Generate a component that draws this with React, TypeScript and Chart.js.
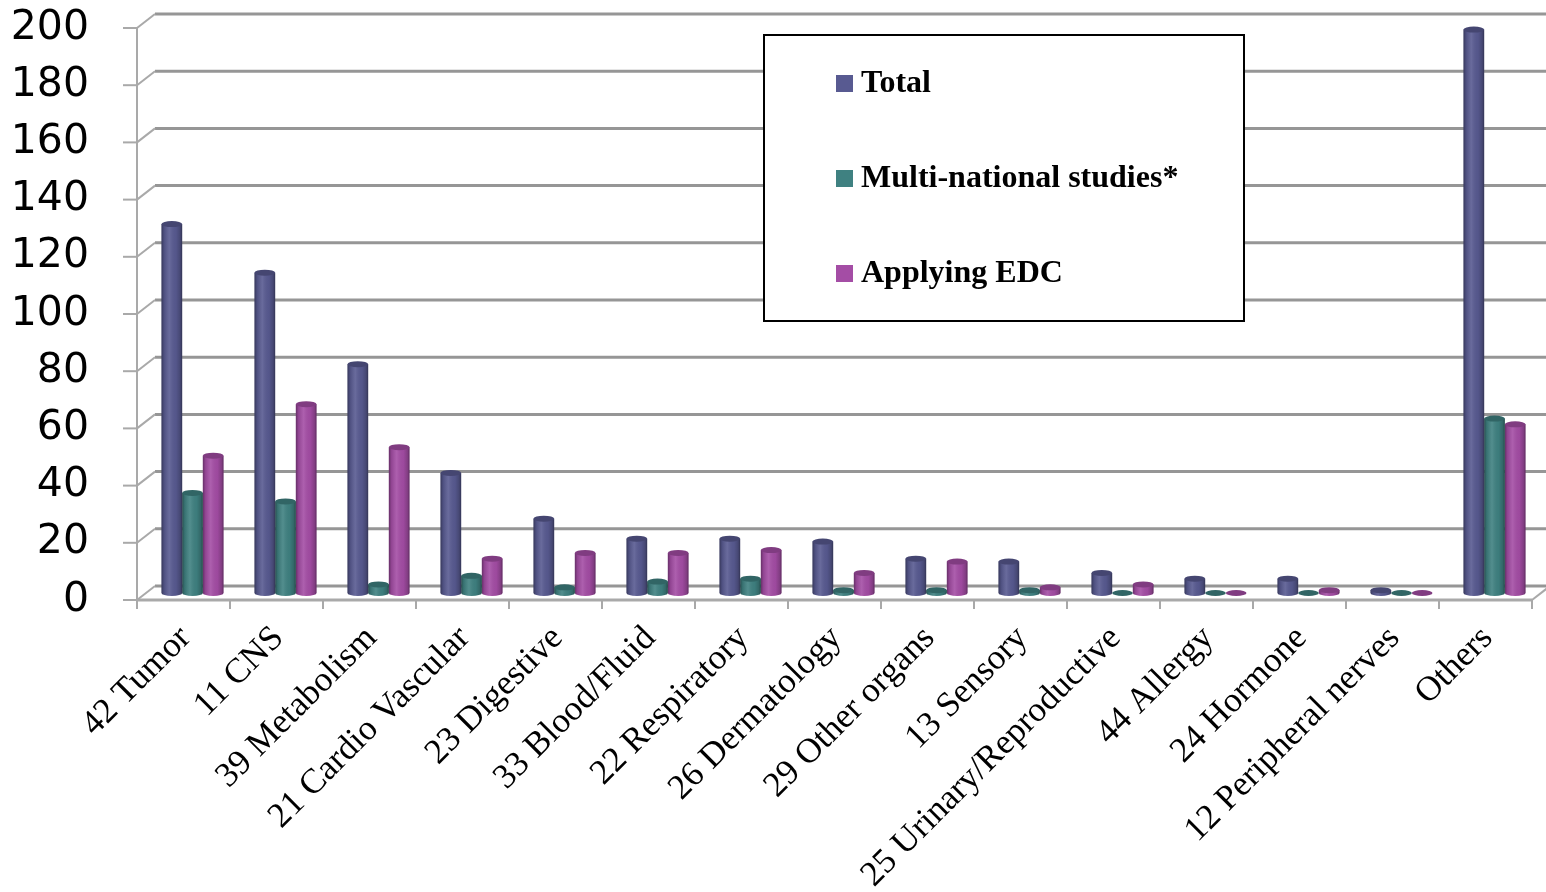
import React, { useEffect, useRef } from "react";
import { Chart, registerables } from "chart.js";

Chart.register(...registerables);

// ---------- data ----------
const categories = [
  "42 Tumor",
  "11 CNS",
  "39 Metabolism",
  "21 Cardio Vascular",
  "23 Digestive",
  "33 Blood/Fluid",
  "22 Respiratory",
  "26 Dermatology",
  "29 Other organs",
  "13 Sensory",
  "25 Urinary/Reproductive",
  "44 Allergy",
  "24 Hormone",
  "12 Peripheral nerves",
  "Others",
];
const totalValues = [129, 112, 80, 42, 26, 19, 19, 18, 12, 11, 7, 5, 5, 1, 197];
const multiNationalValues = [35, 32, 3, 6, 2, 4, 5, 1, 1, 1, 0, 0, 0, 0, 61];
const edcValues = [48, 66, 51, 12, 14, 14, 15, 7, 11, 2, 3, 0, 1, 0, 59];
const seriesLabels = ["Total", "Multi-national studies*", "Applying EDC"];
const seriesColors = ["#585A91", "#3F8181", "#A44DA5"];
const yMin = 0;
const yMax = 200;
const yStep = 20;

// ---------- helpers ----------
function shade(hex: string, f: number): string {
  const n = parseInt(hex.slice(1), 16);
  let r = (n >> 16) & 255, g = (n >> 8) & 255, b = n & 255;
  if (f < 0) {
    r = Math.round(r * (1 + f)); g = Math.round(g * (1 + f)); b = Math.round(b * (1 + f));
  } else {
    r = Math.round(r + (255 - r) * f); g = Math.round(g + (255 - g) * f); b = Math.round(b + (255 - b) * f);
  }
  return `rgb(${r},${g},${b})`;
}

const DX = 9; // half depth offset x
const DY = 7; // half depth offset y

const framePlugin = {
  id: "frame3d",
  beforeDatasetsDraw(chart: any) {
    const { ctx, chartArea, scales } = chart;
    const ys = scales.y;
    const xs = scales.x;
    const left = chartArea.left;
    const line = (x1: number, y1: number, x2: number, y2: number) => {
      ctx.beginPath();
      ctx.moveTo(x1, y1);
      ctx.lineTo(x2, y2);
      ctx.stroke();
    };
    ctx.save();
    // back wall grid lines
    ctx.strokeStyle = "#969696";
    ctx.lineWidth = 3;
    ys.ticks.forEach((t: any) => {
      const py = ys.getPixelForValue(t.value) - DY;
      line(left + DX, py, chart.width, py);
    });
    // side connectors and front ticks
    ctx.strokeStyle = "#a9a9a9";
    ctx.lineWidth = 2;
    ys.ticks.forEach((t: any) => {
      const pm = ys.getPixelForValue(t.value);
      line(left - DX, pm + DY, left + DX, pm - DY);
      line(left - DX - 14, pm + DY, left - DX, pm + DY);
    });
    // front vertical axis
    const yTop = ys.getPixelForValue(yMax) + DY;
    const yBot = ys.getPixelForValue(yMin) + DY;
    line(left - DX, yTop, left - DX, yBot + 8);
    // front floor edge
    ctx.lineWidth = 3;
    line(left - DX, yBot, chartArea.right - DX, yBot);
    ctx.lineWidth = 2;
    line(chartArea.right - DX, yBot, chartArea.right + DX, yBot - 2 * DY);
    // category ticks
    const step = xs.getPixelForValue(1) - xs.getPixelForValue(0);
    for (let i = 0; i <= categories.length; i++) {
      const px = xs.getPixelForValue(0) - step / 2 + i * step - DX;
      line(px, yBot, px, yBot + 9);
    }
    ctx.restore();
  },
  afterDatasetsDraw(chart: any) {
    const { ctx } = chart;
    ctx.save();
    chart.data.datasets.forEach((ds: any, di: number) => {
      const meta = chart.getDatasetMeta(di);
      const color = ds.backgroundColor as string;
      meta.data.forEach((bar: any) => {
        const { x, y, base, width } = bar.getProps(["x", "y", "base", "width"], true);
        const l = x - width / 2;
        const r = x + width / 2;
        const ry = 3;
        if (base - y > 0.5) {
          const g = ctx.createLinearGradient(l, 0, r, 0);
          g.addColorStop(0, "rgba(0,0,0,0.38)");
          g.addColorStop(0.12, "rgba(0,0,0,0.12)");
          g.addColorStop(0.38, "rgba(255,255,255,0.10)");
          g.addColorStop(0.7, "rgba(0,0,0,0.04)");
          g.addColorStop(0.9, "rgba(0,0,0,0.2)");
          g.addColorStop(1, "rgba(0,0,0,0.42)");
          ctx.fillStyle = g;
          ctx.fillRect(l, y, width, base - y);
          ctx.beginPath();
          ctx.ellipse(x, base, width / 2, ry, 0, 0, Math.PI);
          ctx.fillStyle = color;
          ctx.fill();
          ctx.fillStyle = g;
          ctx.fill();
        }
        ctx.beginPath();
        ctx.ellipse(x, y, width / 2, ry, 0, 0, Math.PI * 2);
        ctx.fillStyle = shade(color, -0.22);
        ctx.fill();
      });
    });
    ctx.restore();
  },
  afterDraw(chart: any) {
    const { ctx } = chart;
    const bx = 764, by = 35, bw = 480, bh = 286;
    ctx.save();
    ctx.fillStyle = "#ffffff";
    ctx.fillRect(bx, by, bw, bh);
    ctx.strokeStyle = "#000000";
    ctx.lineWidth = 2;
    ctx.strokeRect(bx, by, bw, bh);
    ctx.font = "bold 32px 'Liberation Serif'";
    ctx.textBaseline = "middle";
    ctx.textAlign = "left";
    chart.data.datasets.forEach((ds: any, i: number) => {
      const cy = 83 + i * 95;
      ctx.fillStyle = ds.backgroundColor;
      ctx.fillRect(836, cy - 8, 17, 17);
      ctx.fillStyle = "#000000";
      ctx.fillText(ds.label, 861, cy + 1);
    });
    ctx.restore();
  },
};

export default function App() {
  const canvasRef = useRef<HTMLCanvasElement | null>(null);

  useEffect(() => {
    document.body.style.margin = "0";
    const canvas = canvasRef.current;
    if (!canvas) return;
    const valuesList = [totalValues, multiNationalValues, edcValues];
    const chart = new Chart(canvas, {
      type: "bar",
      data: {
        labels: categories,
        datasets: valuesList.map((vals, i) => ({
          label: seriesLabels[i],
          data: vals,
          backgroundColor: seriesColors[i],
          borderWidth: 0,
          categoryPercentage: 0.667,
          barPercentage: 1.0,
        })),
      },
      options: {
        animation: false,
        responsive: false,
        devicePixelRatio: 1,
        layout: { padding: { top: 21, right: 5, left: 0, bottom: 0 } },
        plugins: {
          legend: { display: false },
          tooltip: { enabled: false },
        },
        scales: {
          x: {
            grid: { display: false, drawTicks: false },
            border: { display: false },
            afterFit: (s: any) => {
              s.height = 299;
              s.paddingLeft = 0;
              s.paddingRight = 0;
            },
            ticks: {
              autoSkip: false,
              maxRotation: 45,
              minRotation: 45,
              labelOffset: -7,
              padding: 25,
              color: "#000000",
              font: { family: "'Liberation Serif'", size: 35 },
            },
          },
          y: {
            min: yMin,
            max: yMax,
            grid: { display: false, drawTicks: false },
            border: { display: false },
            afterFit: (s: any) => {
              s.width = 146;
              s.paddingTop = 0;
              s.paddingBottom = 0;
            },
            ticks: {
              stepSize: yStep,
              autoSkip: false,
              padding: 57,
              labelOffset: 7,
              color: "#000000",
              font: { family: "'DejaVu Sans'", size: 41 },
            },
          },
        },
      },
      plugins: [framePlugin],
    });
    return () => chart.destroy();
  }, []);

  return (
    <div style={{ width: 1546, height: 892, background: "#ffffff" }}>
      <canvas ref={canvasRef} width={1546} height={892} style={{ display: "block" }} />
    </div>
  );
}
